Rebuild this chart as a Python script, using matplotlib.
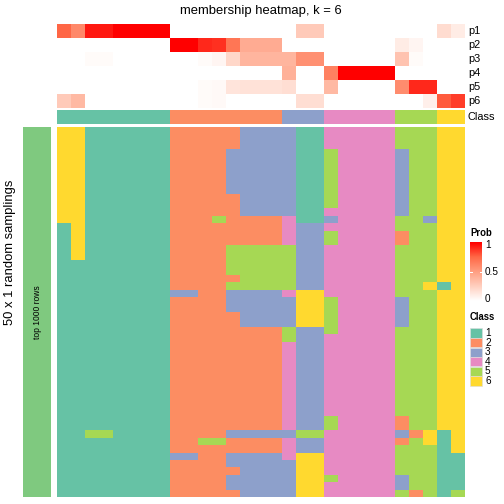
import numpy as np
import matplotlib
matplotlib.use("Agg")
import matplotlib.pyplot as plt
from matplotlib.colors import ListedColormap, LinearSegmentedColormap
from matplotlib.patches import Rectangle

plt.rcParams['font.family'] = ['Liberation Sans', 'DejaVu Sans']

# class colours (1..6) and names
class_colors = ['#66C2A5', '#FC8D62', '#8DA0CB', '#E78AC3', '#A6D854', '#FFD92F']
class_names = ['1', '2', '3', '4', '5', '6']
prob_names = ['p1', 'p2', 'p3', 'p4', 'p5', 'p6']

# top annotation: membership probability of each column (29 columns)
p1 = [0.75, 0.6, 0.94, 0.94, 1, 1, 1, 1, 0, 0, 0, 0, 0, 0, 0, 0,
      0, 0.27, 0.27, 0, 0, 0, 0, 0, 0, 0, 0, 0.18, 0.1]
p2 = [0, 0, 0, 0, 0, 0, 0, 0, 1, 1, 0.9, 0.88, 0.68, 0.43, 0.43, 0.43,
      0, 0, 0, 0, 0, 0, 0, 0, 0.1, 0.05, 0, 0, 0]
p3 = [0, 0, 0.02, 0.02, 0, 0, 0, 0, 0, 0, 0.02, 0.05, 0.21, 0.38, 0.38, 0.38,
      0.38, 0.56, 0.56, 0, 0, 0, 0, 0, 0.31, 0.02, 0, 0, 0]
p4 = [0, 0, 0, 0, 0, 0, 0, 0, 0, 0, 0, 0, 0, 0, 0, 0,
      0.4, 0, 0, 0.63, 1, 1, 1, 1, 0, 0, 0, 0, 0]
p5 = [0, 0, 0, 0, 0, 0, 0, 0, 0, 0, 0.02, 0.03, 0.14, 0.15, 0.15, 0.15,
      0.17, 0, 0, 0.36, 0, 0, 0, 0, 0.58, 0.9, 0.9, 0, 0]
p6 = [0.27, 0.36, 0, 0, 0, 0, 0, 0, 0, 0, 0.02, 0.03, 0, 0, 0, 0,
      0, 0.17, 0.17, 0, 0, 0, 0, 0, 0, 0, 0.08, 0.78, 0.85]

col_class = [1, 1, 1, 1, 1, 1, 1, 1, 2, 2, 2, 2, 2, 2, 2, 2,
             3, 3, 3, 4, 4, 4, 4, 4, 5, 5, 5, 6, 6]

# class of each column in the 50 random samplings
samplings = [
    "66111111" "22222333" "311" "44444" "555" "66",
    "66111111" "22222333" "311" "44444" "555" "66",
    "66111111" "22222333" "311" "44444" "555" "66",
    "66111111" "22223333" "311" "54444" "355" "66",
    "66111111" "22223333" "311" "54444" "355" "66",
    "66111111" "22223333" "311" "54444" "355" "66",
    "66111111" "22223333" "311" "54444" "355" "66",
    "66111111" "22223333" "311" "54444" "355" "66",
    "66111111" "22223333" "311" "54444" "355" "66",
    "66111111" "22222333" "311" "54444" "355" "66",
    "66111111" "22222333" "311" "54444" "355" "66",
    "66111111" "22222333" "311" "44444" "355" "66",
    "66111111" "22252222" "411" "34444" "553" "66",
    "16111111" "22222222" "433" "44444" "555" "66",
    "16111111" "22222222" "433" "54444" "255" "66",
    "16111111" "22222222" "433" "54444" "255" "66",
    "16111111" "22225555" "533" "44444" "555" "66",
    "16111111" "22225555" "533" "44444" "555" "66",
    "11111111" "22225555" "533" "44444" "555" "66",
    "11111111" "22225555" "533" "44444" "555" "66",
    "11111111" "22222555" "533" "44444" "555" "66",
    "11111111" "22225555" "533" "44444" "556" "16",
    "11111111" "33223333" "466" "44444" "555" "66",
    "11111111" "22223333" "366" "54444" "355" "66",
    "11111111" "22223333" "366" "54444" "355" "66",
    "11111111" "22222333" "366" "54444" "355" "66",
    "11111111" "22222333" "366" "54444" "355" "66",
    "11111111" "22222222" "533" "54444" "555" "66",
    "11111111" "22222222" "533" "44444" "555" "66",
    "11111111" "22222222" "433" "44444" "555" "66",
    "11111111" "22222222" "433" "44444" "555" "66",
    "11111111" "22222222" "433" "44444" "555" "66",
    "11111111" "22222222" "433" "44444" "555" "66",
    "11111111" "22222222" "433" "44444" "555" "66",
    "11111111" "22222222" "433" "44444" "555" "66",
    "11111111" "22222222" "433" "44444" "555" "66",
    "11111111" "22222222" "433" "44444" "555" "66",
    "11111111" "22222222" "433" "44444" "555" "66",
    "11111111" "22222222" "433" "44444" "555" "66",
    "11111111" "22222222" "433" "54444" "255" "66",
    "11111111" "22222222" "433" "54444" "255" "66",
    "11551111" "22223333" "355" "44444" "326" "16",
    "11111111" "22552222" "433" "44444" "256" "16",
    "11111111" "22222222" "433" "44444" "555" "16",
    "11111111" "33223333" "466" "44444" "555" "11",
    "11111111" "22223333" "366" "44444" "555" "11",
    "11111111" "22222333" "366" "44444" "555" "11",
    "11111111" "22223333" "366" "54444" "355" "11",
    "11111111" "22223333" "366" "44444" "355" "11",
    "11111111" "22222333" "366" "44444" "525" "15",
]

W, H = 504, 504


def box(x0, y0, x1, y1):
    # pixel box (top-left origin) -> figure fraction rect
    return [x0 / W, 1 - y1 / H, (x1 - x0) / W, (y1 - y0) / H]


def clean(ax):
    ax.set_xticks([])
    ax.set_yticks([])
    for s in ax.spines.values():
        s.set_visible(False)


# white -> red ramp (interpolated like a LAB ramp)
prob_cmap = LinearSegmentedColormap.from_list(
    'prob', [(0, '#FFFFFF'), (0.25, '#FFCFBF'), (0.5, '#FF9E81'),
             (0.75, '#FF6846'), (1, '#FF0000')])
class_cmap = ListedColormap(class_colors)

fig = plt.figure(figsize=(7, 7), dpi=72)

x0, x1 = 57, 465

# probability annotation
ax_p = fig.add_axes(box(x0, 24, x1, 108))
prob = np.array([p1, p2, p3, p4, p5, p6])
ax_p.imshow(prob, cmap=prob_cmap, vmin=0, vmax=1, aspect='auto',
            interpolation='nearest')
clean(ax_p)
for i, name in enumerate(prob_names):
    fig.text(468 / W, 1 - (31 + 14 * i) / H, name, fontsize=11,
             ha='left', va='center')

# class annotation
ax_c = fig.add_axes(box(x0, 110, x1, 124))
ax_c.imshow(np.array([col_class]) - 1, cmap=class_cmap, vmin=-0.5, vmax=5.5,
            aspect='auto', interpolation='nearest')
clean(ax_c)
fig.text(468 / W, 1 - 117 / H, 'Class', fontsize=11, ha='left', va='center')

# main heatmap
mat = np.array([[int(ch) for ch in row] for row in samplings])
ax_m = fig.add_axes(box(x0, 127, x1, 497))
ax_m.imshow(mat - 1, cmap=class_cmap, vmin=-0.5, vmax=5.5, aspect='auto',
            interpolation='nearest')
clean(ax_m)

# left row annotation
ax_l = fig.add_axes(box(23, 127, 51, 497))
ax_l.set_facecolor('#7FC97F')
clean(ax_l)
ax_l.text(0.5, 0.5, 'top 1000 rows', rotation=90, fontsize=8.5,
          ha='center', va='center', transform=ax_l.transAxes)
fig.text(10 / W, 1 - 252 / H, '50 x 1 random samplings', rotation=90,
         fontsize=13, ha='center', va='center')

fig.text(261 / W, 1 - 11 / H, 'membership heatmap, k = 6', fontsize=13,
         ha='center', va='center')

# legend: Prob
fig.text(470 / W, 1 - 233 / H, 'Prob', fontsize=9.5, fontweight='bold',
         ha='left', va='center')
ax_cb = fig.add_axes(box(470, 242, 482, 301))
ax_cb.imshow(np.linspace(1, 0, 100).reshape(-1, 1), cmap=prob_cmap,
             vmin=0, vmax=1, aspect='auto', extent=[0, 1, 0, 1])
clean(ax_cb)
for v, yy in [(1, 245), (0.5, 272), (0, 299)]:
    fig.text(485 / W, 1 - yy / H, f'{v:g}', fontsize=10, ha='left',
             va='center')
    if v == 0.5:
        ax_cb.plot([0, 0.2], [0.5, 0.5], color='white', lw=1)
        ax_cb.plot([0.8, 1], [0.5, 0.5], color='white', lw=1)
ax_cb.set_xlim(0, 1)
ax_cb.set_ylim(0, 1)

# legend: Class
fig.text(470 / W, 1 - 317 / H, 'Class', fontsize=9.5, fontweight='bold',
         ha='left', va='center')
for i, (c, lab) in enumerate(zip(class_colors, class_names)):
    yc = 333 + 9.6 * i
    fig.patches.append(Rectangle((470 / W, 1 - (yc + 4.6) / H), 12 / W,
                                 9.2 / H, transform=fig.transFigure,
                                 facecolor=c, edgecolor='#DDDDDD', lw=0.6))
    fig.text(485 / W, 1 - yc / H, lab, fontsize=10, ha='left', va='center')

fig.savefig('out.png', dpi=72)
